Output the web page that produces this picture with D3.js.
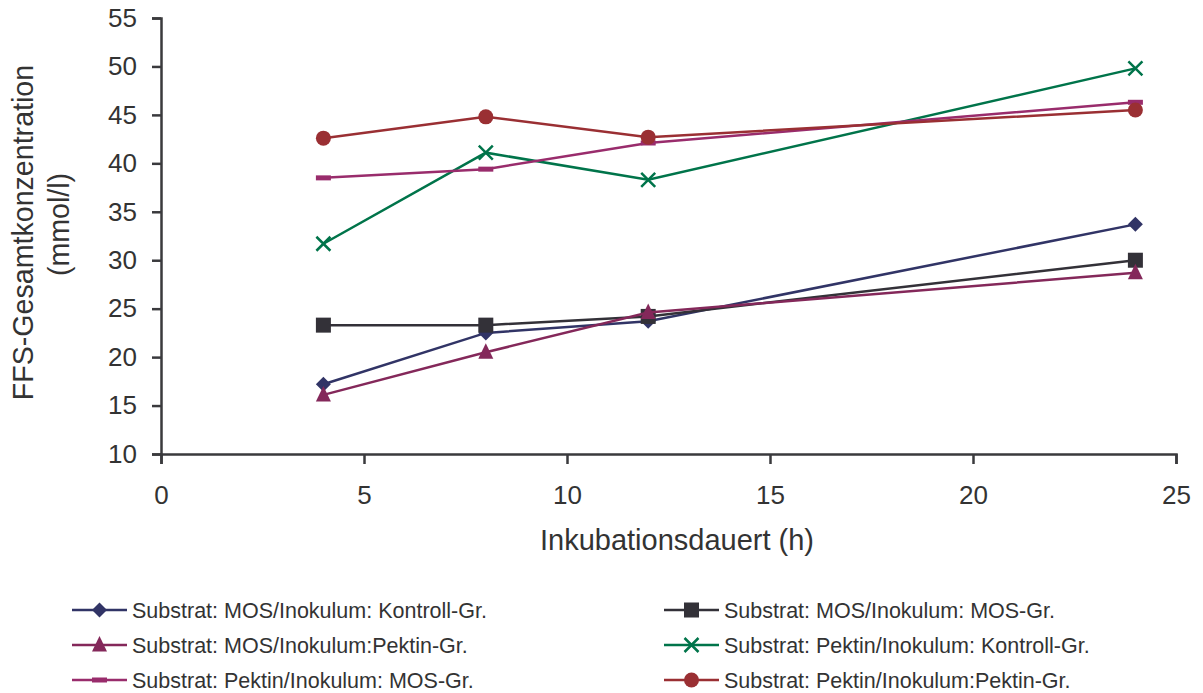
<!DOCTYPE html>
<html>
<head>
<meta charset="utf-8">
<script src="https://cdn.jsdelivr.net/npm/d3@7"></script>
<style>
  html, body { margin: 0; padding: 0; background: #fff; }
  svg { display: block; font-family: "Liberation Sans", Arial, sans-serif; }
</style>
</head>
<body>
<svg id="chart" width="1203" height="693"></svg>
<script>
// Incubation time points (h)
const hours = [4, 8, 12, 24];

// Total SCFA concentration (mmol/l) per substrate/inoculum combination
const mosKontroll    = [17.2, 22.5, 23.7, 33.7];
const mosMos         = [23.3, 23.3, 24.2, 30.0];
const mosPektin      = [16.1, 20.5, 24.6, 28.7];
const pektinKontroll = [31.7, 41.1, 38.3, 49.8];
const pektinMos      = [38.5, 39.4, 42.1, 46.3];
const pektinPektin   = [42.6, 44.8, 42.7, 45.5];

const seriesNames = [
  "Substrat: MOS/Inokulum: Kontroll-Gr.",
  "Substrat: MOS/Inokulum: MOS-Gr.",
  "Substrat: MOS/Inokulum:Pektin-Gr.",
  "Substrat: Pektin/Inokulum: Kontroll-Gr.",
  "Substrat: Pektin/Inokulum: MOS-Gr.",
  "Substrat: Pektin/Inokulum:Pektin-Gr."
];
const seriesValues = [mosKontroll, mosMos, mosPektin, pektinKontroll, pektinMos, pektinPektin];
const seriesColors = ["#313466", "#333138", "#84285A", "#00744A", "#992C6C", "#9A2F33"];
const seriesMarkers = ["diamond", "square", "triangle", "cross", "dash", "circle"];

const xTicks = [0, 5, 10, 15, 20, 25];
const yTicks = [10, 15, 20, 25, 30, 35, 40, 45, 50, 55];

const svg = d3.select("#chart");
const axisColor = "#3a3a3d";
const textColor = "#333333";

const x = d3.scaleLinear().domain([0, 25]).range([161, 1176]);
const y = d3.scaleLinear().domain([10, 55]).range([454, 18]);

// Axes
const xAxis = svg.append("g")
  .attr("transform", `translate(0,${y(10)})`)
  .call(d3.axisBottom(x).tickValues(xTicks).tickSize(10).tickPadding(22).tickFormat(d3.format("d")));
const yAxis = svg.append("g")
  .attr("transform", `translate(${x(0)},0)`)
  .call(d3.axisLeft(y).tickValues(yTicks).tickSize(9).tickPadding(15).tickFormat(d3.format("d")));

[xAxis, yAxis].forEach(g => {
  g.select(".domain").attr("stroke", axisColor).attr("stroke-width", 2.5);
  g.selectAll(".tick line").attr("stroke", axisColor).attr("stroke-width", 2.5);
  g.selectAll(".tick text").attr("fill", textColor).style("font-size", "26px")
    .style("font-family", "'Liberation Sans', Arial, sans-serif");
});

// Axis titles
svg.append("text")
  .attr("x", 677).attr("y", 550)
  .attr("text-anchor", "middle")
  .attr("fill", textColor)
  .style("font-size", "29px")
  .text("Inkubationsdauert (h)");

const yTitle = svg.append("text")
  .attr("transform", `translate(0,236) rotate(-90)`)
  .attr("text-anchor", "middle")
  .attr("fill", textColor)
  .style("font-size", "28.6px");
yTitle.append("tspan").attr("x", 3.5).attr("y", 33).text("FFS-Gesamtkonzentration");
yTitle.append("tspan").attr("x", 11.5).attr("y", 69).text("(mmol/l)");

// Marker drawing
function drawMarker(g, type, color, cx, cy) {
  switch (type) {
    case "diamond":
      g.append("path").attr("d", `M${cx},${cy - 7.5}L${cx + 7.5},${cy}L${cx},${cy + 7.5}L${cx - 7.5},${cy}Z`).attr("fill", color);
      break;
    case "square":
      g.append("rect").attr("x", cx - 7.5).attr("y", cy - 7.5).attr("width", 15).attr("height", 15).attr("fill", color);
      break;
    case "triangle":
      g.append("path").attr("d", `M${cx},${cy - 9}L${cx + 7.5},${cy + 6.5}L${cx - 7.5},${cy + 6.5}Z`).attr("fill", color);
      break;
    case "cross":
      g.append("path").attr("d", `M${cx - 7},${cy - 7}L${cx + 7},${cy + 7}M${cx - 7},${cy + 7}L${cx + 7},${cy - 7}`)
        .attr("stroke", color).attr("stroke-width", 2.5).attr("fill", "none");
      break;
    case "dash":
      g.append("rect").attr("x", cx - 7.5).attr("y", cy - 2.5).attr("width", 15).attr("height", 5).attr("fill", color);
      break;
    case "circle":
      g.append("circle").attr("cx", cx).attr("cy", cy).attr("r", 7.5).attr("fill", color);
      break;
  }
}

// Series lines and markers
const line = d3.line().x((d, i) => x(hours[i])).y(d => y(d));
seriesValues.forEach((vals, k) => {
  const g = svg.append("g");
  g.append("path").datum(vals).attr("d", line)
    .attr("fill", "none").attr("stroke", seriesColors[k]).attr("stroke-width", 2.5);
  vals.forEach((v, i) => drawMarker(g, seriesMarkers[k], seriesColors[k], x(hours[i]), y(v)));
});

// Legend
const legendCols = [{ x0: 72, x1: 127, tx: 132 }, { x0: 664, x1: 719, tx: 724 }];
const legendRows = [610, 645, 680];
seriesNames.forEach((name, k) => {
  const col = legendCols[k % 2];
  const ry = legendRows[Math.floor(k / 2)];
  const g = svg.append("g");
  g.append("line").attr("x1", col.x0).attr("x2", col.x1).attr("y1", ry).attr("y2", ry)
    .attr("stroke", seriesColors[k]).attr("stroke-width", 2.5);
  drawMarker(g, seriesMarkers[k], seriesColors[k], (col.x0 + col.x1) / 2, ry);
  g.append("text").attr("x", col.tx).attr("y", ry).attr("dy", "0.35em")
    .attr("fill", textColor).style("font-size", "21.5px").text(name);
});
</script>
</body>
</html>
